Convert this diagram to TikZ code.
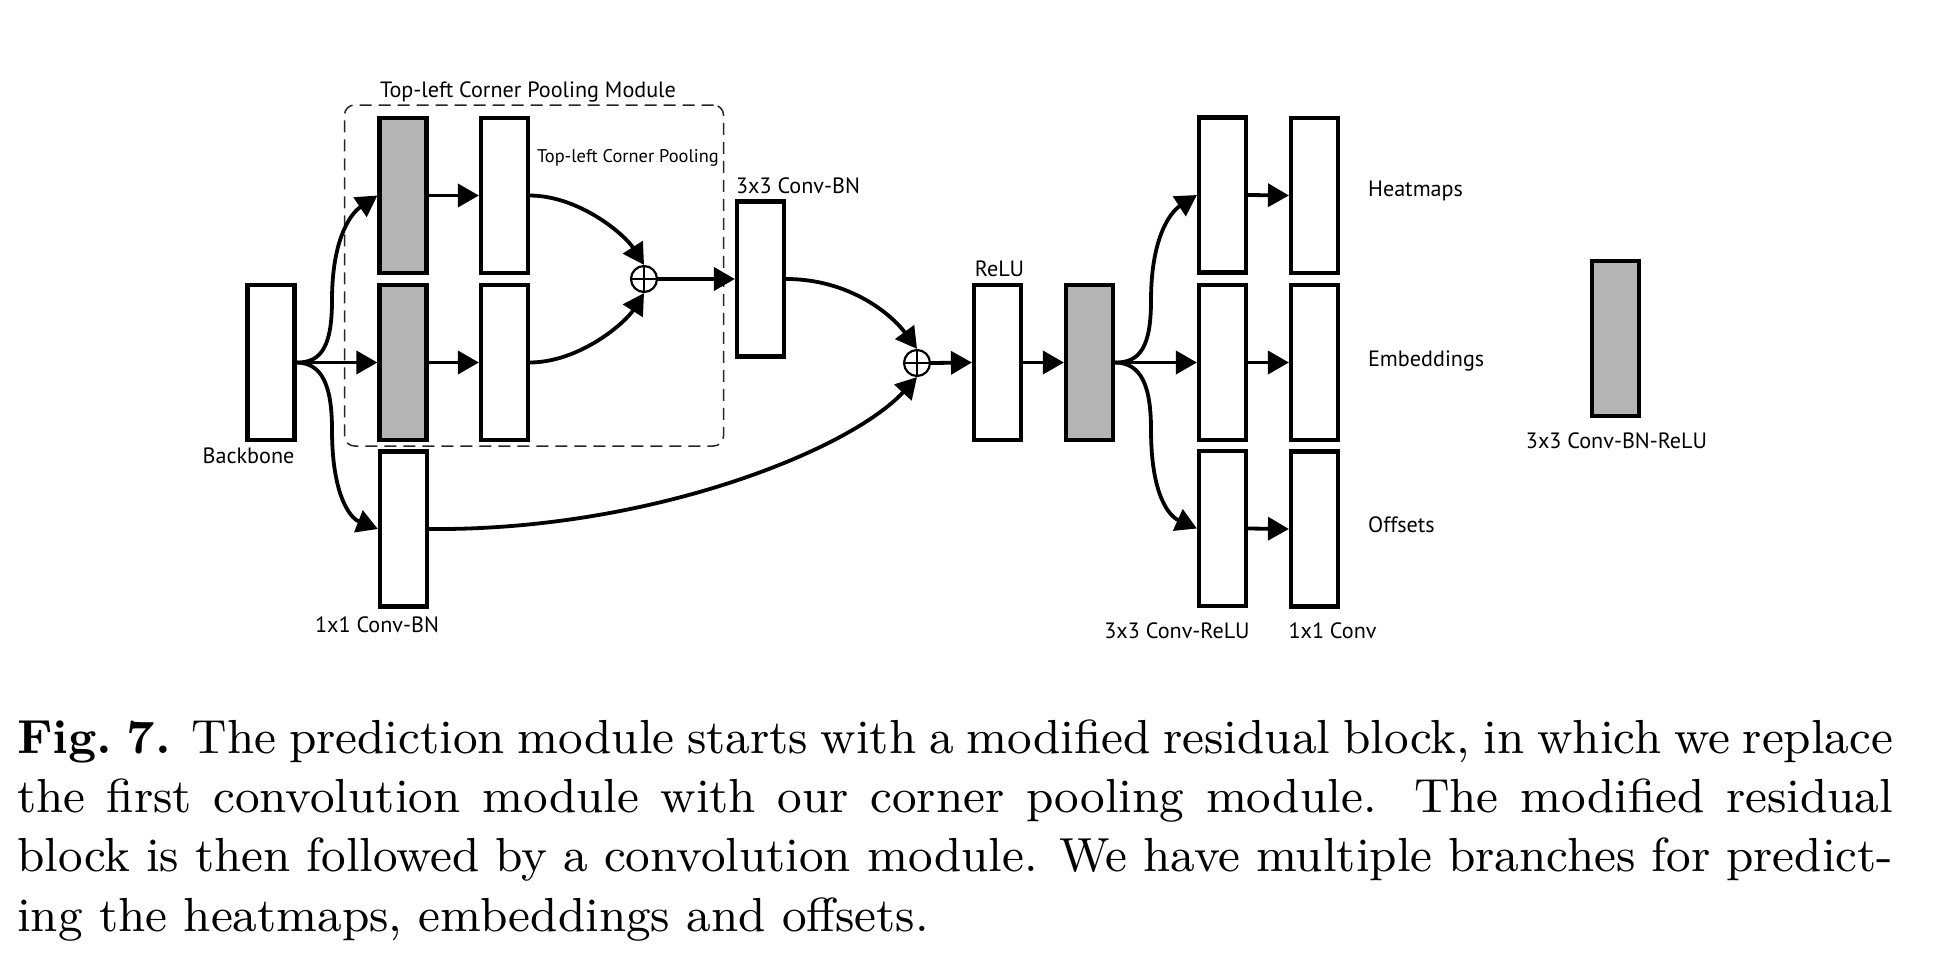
\documentclass[tikz,border=0pt]{standalone}
\usepackage{fontspec}
\newfontfamily\labfont{PT Sans}
\usetikzlibrary{arrows.meta}
\definecolor{boxgray}{RGB}{179,180,179}
\newcommand\pu{0.18508pt}
\newcommand\capline[1]{\hbox to 347.21pt{#1}\par}

\begin{document}
\begin{tikzpicture}[x=0.18508pt, y=-0.18508pt,
  layer/.style={draw=black, fill=white, line width=4.2*\pu, inner sep=0,
    minimum width=47*\pu, minimum height=155*\pu},
  graylayer/.style={layer, fill=boxgray},
  flow/.style={line width=3.8*\pu, -{Triangle[length=21*\pu, width=23*\pu]}},
  plus/.style={circle, draw=black, line width=2.2*\pu, minimum size=26*\pu, inner sep=0},
  lab/.style={font=\labfont\fontsize{4.1}{5}\selectfont, inner sep=0},
  smalllab/.style={font=\labfont\fontsize{3.4}{4}\selectfont, inner sep=0},
  modframe/.style={draw=black!85, line width=1.5*\pu, dash pattern=on 12*\pu off 7*\pu,
    rounded corners=10*\pu, inner sep=0, minimum width=379*\pu, minimum height=341*\pu},
]
\useasboundingbox (0,0) rectangle (1936,956);

% corner pooling module frame
\node[modframe] (mod) at (534,275.5) {};
\node[lab, anchor=base] (modlab) at (528,97) {Top-left Corner Pooling Module};

% backbone and first stage
\node[layer] (bb) at (271,362.5) {};
\node[lab, anchor=base] (bblab) at (248.5,463) {Backbone};
\node[graylayer] (g1) at (403,195.5) {};
\node[graylayer] (g2) at (403,362.5) {};
\node[layer] (w1) at (504.5,195.5) {};
\node[layer] (w2) at (504.5,362.5) {};
\node[smalllab, anchor=base west] (cplab) at (536,162) {Top-left Corner Pooling};
\node[plus] (p1) at (644,279) {};
\draw[line width=2.8*\pu] (p1.north) -- (p1.south) (p1.west) -- (p1.east);

\node[layer] (c3) at (760.5,279) {};
\node[lab, anchor=base west] (c3lab) at (735,193) {3x3 Conv-BN};
\node[layer] (c1) at (403.5,529) {};
\node[lab, anchor=base] (c1lab) at (377,632) {1x1 Conv-BN};

\node[plus] (p2) at (917,363) {};
\draw[line width=2.8*\pu] (p2.north) -- (p2.south) (p2.west) -- (p2.east);

\node[layer] (relu) at (997.5,362.5) {};
\node[lab, anchor=base] (relulab) at (999.5,276) {ReLU};
\node[graylayer] (g3) at (1089.5,362.5) {};

% prediction branches
\node[layer] (a1) at (1222.5,195) {};
\node[layer] (a2) at (1222.5,362.5) {};
\node[layer] (a3) at (1222.5,528.5) {};
\node[layer] (b1) at (1314.5,195.5) {};
\node[layer] (b2) at (1314.5,362.5) {};
\node[layer] (b3) at (1314.5,529) {};
\node[lab, anchor=base west] (hm) at (1367,196) {Heatmaps};
\node[lab, anchor=base west] (em) at (1367,366) {Embeddings};
\node[lab, anchor=base west] (of) at (1367,532) {Offsets};
\node[lab, anchor=base] (alab) at (1177,638) {3x3 Conv-ReLU};
\node[lab, anchor=base] (blab) at (1332.5,638) {1x1 Conv};

% legend
\node[graylayer] (leg) at (1615.5,338.5) {};
\node[lab, anchor=base] (leglab) at (1616.5,448) {3x3 Conv-BN-ReLU};

% connectors
\draw[flow] (bb.east) -- (g2.west);
\draw[flow] (bb.east) .. controls (322,363) and (332,345) .. (332,300)
  .. controls (332,240) and (350,214) .. (g1.west);
\draw[flow] (bb.east) .. controls (322,363) and (332,385) .. (332,430)
  .. controls (332,495) and (350,518) .. (c1.west);
\draw[flow] (g1.east) -- (w1.west);
\draw[flow] (g2.east) -- (w2.west);
\draw[flow] (w1.east) .. controls (580,196) and (625,235) .. (p1.north);
\draw[flow] (w2.east) .. controls (580,362) and (625,323) .. (p1.south);
\draw[flow] (p1.east) -- (c3.west);
\draw[flow] (c3.east) .. controls (850,279) and (892,315) .. (p2.north);
\draw[flow] (c1.east) .. controls (650,531) and (850,450) .. (p2.south);
\draw[flow] (p2.east) -- (relu.west);
\draw[flow] (relu.east) -- (g3.west);
\draw[flow] (g3.east) -- (a2.west);
\draw[flow] (g3.east) .. controls (1141,363) and (1151,345) .. (1151,300)
  .. controls (1151,240) and (1169,213) .. (a1.west);
\draw[flow] (g3.east) .. controls (1141,363) and (1151,385) .. (1151,430)
  .. controls (1151,495) and (1169,516) .. (a3.west);
\draw[flow] (a1.east) -- (b1.west);
\draw[flow] (a2.east) -- (b2.west);
\draw[flow] (a3.east) -- (b3.west);

% caption, one justified box per line
\node[anchor=base west, inner sep=0, text width=1876*\pu, align=justify,
  font=\fontsize{8.85}{11}\selectfont] (cap) at (16,753)
{\capline{\textbf{Fig.~7.} The prediction module starts with a modified residual block, in which we replace}%
\capline{the first convolution module with our corner pooling module. The modified residual}%
\capline{block is then followed by a convolution module. We have multiple branches for predict-}%
ing the heatmaps, embeddings and offsets.};
\end{tikzpicture}
\end{document}
